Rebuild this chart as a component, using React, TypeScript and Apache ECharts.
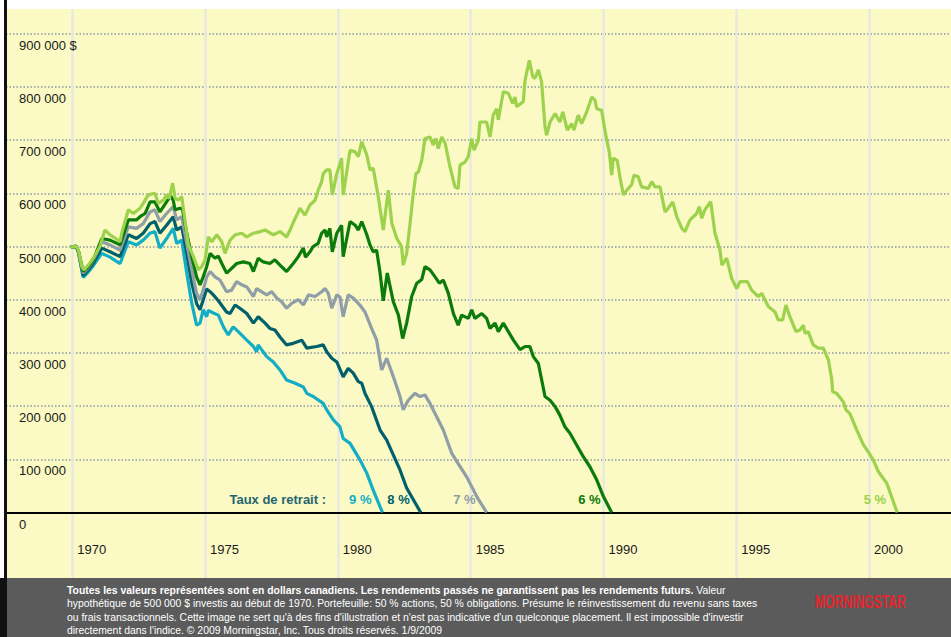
import React, { useEffect, useRef } from 'react';
import * as echarts from 'echarts';

// Values in thousands of dollars, [year, value]
const rate5: [number, number][] = [
  [1969.92, 500], [1970.05, 499], [1970.14, 501], [1970.23, 493], [1970.36, 462], [1970.44, 456], [1970.6, 465], [1970.79, 478],
  [1971.04, 500], [1971.17, 522], [1971.23, 531], [1971.42, 522], [1971.61, 516], [1971.8, 509], [1971.86, 525], [1972.11, 569],
  [1972.3, 562], [1972.55, 572], [1972.67, 581], [1972.86, 597], [1973.11, 600], [1973.24, 581], [1973.43, 587], [1973.55, 597],
  [1973.65, 590], [1973.78, 619], [1973.87, 591], [1973.99, 587], [1974.12, 594], [1974.24, 550], [1974.37, 503], [1974.56, 481],
  [1974.74, 456], [1974.87, 462], [1975.0, 475], [1975.12, 518], [1975.25, 509], [1975.44, 522], [1975.63, 509], [1975.75, 487],
  [1975.94, 512], [1976.13, 522], [1976.38, 525], [1976.57, 518], [1976.82, 525], [1977.07, 528], [1977.26, 531], [1977.57, 522],
  [1977.82, 528], [1978.07, 518], [1978.2, 531], [1978.32, 545], [1978.51, 565], [1978.57, 572], [1978.76, 559], [1978.95, 578],
  [1979.14, 587], [1979.26, 606], [1979.39, 622], [1979.45, 637], [1979.58, 644], [1979.7, 644], [1979.79, 597], [1979.96, 637],
  [1980.14, 666], [1980.2, 597], [1980.46, 681], [1980.65, 678], [1980.77, 669], [1980.9, 697], [1981.09, 672], [1981.21, 644],
  [1981.33, 647], [1981.52, 594], [1981.71, 531], [1981.9, 606], [1982.03, 544], [1982.22, 515], [1982.4, 500], [1982.46, 465],
  [1982.59, 487], [1982.72, 544], [1982.84, 600], [1982.94, 637], [1983.03, 640], [1983.16, 662], [1983.28, 703], [1983.47, 706],
  [1983.59, 691], [1983.7, 703], [1983.78, 684], [1983.91, 706], [1984.04, 694], [1984.22, 650], [1984.41, 612], [1984.53, 609],
  [1984.6, 653], [1984.79, 659], [1984.91, 669], [1985.04, 703], [1985.13, 681], [1985.29, 700], [1985.35, 734], [1985.6, 734],
  [1985.73, 706], [1985.85, 747], [1985.98, 759], [1986.04, 738], [1986.23, 791], [1986.42, 788], [1986.58, 769], [1986.67, 781],
  [1986.73, 763], [1986.98, 772], [1987.05, 813], [1987.21, 850], [1987.34, 819], [1987.42, 816], [1987.55, 832], [1987.67, 810],
  [1987.8, 725], [1987.86, 709], [1987.99, 734], [1988.18, 750], [1988.36, 734], [1988.47, 753], [1988.64, 719], [1988.8, 731],
  [1988.89, 719], [1989.05, 747], [1989.18, 731], [1989.37, 753], [1989.56, 781], [1989.68, 775], [1989.75, 759], [1989.93, 756],
  [1990.1, 706], [1990.22, 678], [1990.31, 634], [1990.37, 666], [1990.52, 662], [1990.62, 631], [1990.75, 597], [1990.88, 606],
  [1991.06, 616], [1991.15, 634], [1991.31, 631], [1991.44, 612], [1991.69, 609], [1991.82, 622], [1991.94, 612], [1992.13, 612],
  [1992.32, 565], [1992.44, 572], [1992.61, 584], [1992.76, 556], [1992.95, 534], [1993.07, 528], [1993.26, 550], [1993.51, 562],
  [1993.61, 575], [1993.7, 553], [1993.82, 569], [1994.04, 584], [1994.2, 525], [1994.39, 493], [1994.46, 465], [1994.64, 478],
  [1994.83, 440], [1995.02, 421], [1995.14, 434], [1995.42, 434], [1995.58, 418], [1995.83, 406], [1995.96, 412], [1996.21, 387],
  [1996.46, 377], [1996.58, 362], [1996.75, 362], [1996.87, 390], [1997.02, 368], [1997.25, 340], [1997.4, 343], [1997.53, 352],
  [1997.59, 337], [1997.71, 340], [1997.9, 315], [1998.09, 309], [1998.28, 309], [1998.47, 287], [1998.6, 249], [1998.63, 227],
  [1998.78, 224], [1999.03, 208], [1999.13, 193], [1999.28, 186], [1999.54, 155], [1999.79, 127], [1999.97, 114], [2000.16, 99],
  [2000.35, 77], [2000.67, 55], [2001.06, 0],
];

const rate6: [number, number][] = [
  [1969.92, 500], [1970.05, 499], [1970.14, 501], [1970.23, 492], [1970.41, 453], [1970.6, 462], [1970.79, 475], [1971.11, 515],
  [1971.42, 512], [1971.8, 503], [1972.11, 550], [1972.42, 550], [1972.55, 556], [1972.74, 562], [1972.93, 584], [1973.11, 584],
  [1973.3, 565], [1973.55, 584], [1973.7, 595], [1973.8, 587], [1973.87, 569], [1974.06, 572], [1974.15, 570], [1974.31, 525],
  [1974.5, 481], [1974.68, 443], [1974.81, 428], [1974.93, 443], [1975.06, 462], [1975.19, 487], [1975.37, 478], [1975.5, 482],
  [1975.63, 468], [1975.81, 450], [1975.94, 456], [1976.19, 468], [1976.44, 471], [1976.69, 468], [1976.82, 453], [1977.0, 478],
  [1977.19, 471], [1977.44, 468], [1977.63, 475], [1977.82, 465], [1978.07, 453], [1978.32, 468], [1978.51, 481], [1978.7, 497],
  [1978.78, 480], [1978.95, 490], [1979.07, 500], [1979.26, 506], [1979.39, 525], [1979.52, 531], [1979.58, 518], [1979.7, 534],
  [1979.79, 490], [1979.96, 525], [1980.14, 540], [1980.2, 481], [1980.46, 547], [1980.65, 540], [1980.77, 531], [1980.9, 547],
  [1981.09, 522], [1981.21, 503], [1981.33, 490], [1981.46, 493], [1981.59, 450], [1981.71, 398], [1981.86, 450], [1982.09, 396],
  [1982.28, 371], [1982.44, 327], [1982.59, 356], [1982.78, 406], [1982.97, 431], [1983.16, 438], [1983.28, 462], [1983.47, 456],
  [1983.66, 443], [1983.82, 431], [1983.97, 437], [1984.16, 412], [1984.35, 374], [1984.53, 352], [1984.66, 371], [1984.91, 365],
  [1985.04, 381], [1985.16, 365], [1985.42, 374], [1985.6, 365], [1985.73, 346], [1985.92, 356], [1986.04, 340], [1986.23, 356],
  [1986.42, 340], [1986.61, 324], [1986.86, 306], [1987.05, 312], [1987.23, 312], [1987.36, 293], [1987.55, 280], [1987.8, 218],
  [1987.99, 211], [1988.18, 199], [1988.36, 183], [1988.55, 161], [1988.74, 149], [1988.99, 127], [1989.24, 105], [1989.49, 86],
  [1989.75, 61], [1990.0, 30], [1990.31, 0],
];

const rate7: [number, number][] = [
  [1969.92, 500], [1970.05, 499], [1970.14, 501], [1970.23, 491], [1970.41, 450], [1970.6, 460], [1970.79, 474], [1971.11, 509],
  [1971.42, 503], [1971.8, 493], [1972.11, 537], [1972.42, 534], [1972.67, 543], [1972.93, 565], [1973.11, 569], [1973.3, 547],
  [1973.55, 562], [1973.8, 575], [1973.93, 550], [1974.12, 556], [1974.31, 506], [1974.5, 456], [1974.68, 412], [1974.81, 400],
  [1974.93, 418], [1975.06, 443], [1975.19, 453], [1975.37, 443], [1975.56, 437], [1975.81, 415], [1976.0, 418], [1976.19, 434],
  [1976.38, 428], [1976.57, 424], [1976.82, 406], [1976.94, 421], [1977.32, 409], [1977.51, 415], [1977.7, 403], [1977.88, 396],
  [1978.07, 384], [1978.26, 393], [1978.51, 400], [1978.7, 390], [1978.89, 409], [1979.14, 406], [1979.39, 415], [1979.52, 421],
  [1979.64, 412], [1979.77, 384], [1979.96, 409], [1980.08, 405], [1980.2, 368], [1980.39, 409], [1980.58, 403], [1980.83, 390],
  [1981.02, 377], [1981.27, 346], [1981.46, 324], [1981.65, 268], [1981.84, 290], [1982.09, 255], [1982.34, 218], [1982.46, 193],
  [1982.65, 211], [1982.9, 224], [1983.09, 218], [1983.28, 221], [1983.47, 205], [1983.72, 180], [1983.97, 155], [1984.29, 111],
  [1984.53, 92], [1984.85, 67], [1985.23, 30], [1985.6, 0],
];

const rate8: [number, number][] = [
  [1969.92, 500], [1970.05, 499], [1970.14, 501], [1970.23, 490], [1970.41, 445], [1970.6, 456], [1970.79, 468], [1971.11, 497],
  [1971.42, 490], [1971.8, 481], [1972.11, 522], [1972.42, 515], [1972.67, 525], [1972.93, 543], [1973.11, 547], [1973.3, 525],
  [1973.55, 540], [1973.8, 556], [1973.93, 531], [1974.12, 537], [1974.31, 487], [1974.5, 431], [1974.68, 393], [1974.81, 381],
  [1974.93, 400], [1975.06, 420], [1975.19, 415], [1975.31, 409], [1975.5, 398], [1975.81, 377], [1975.94, 374], [1976.13, 390],
  [1976.31, 384], [1976.57, 374], [1976.82, 356], [1977.0, 368], [1977.26, 356], [1977.44, 346], [1977.63, 343], [1977.82, 330],
  [1978.07, 315], [1978.32, 318], [1978.64, 324], [1978.83, 309], [1979.2, 312], [1979.45, 315], [1979.58, 302], [1979.77, 290],
  [1979.96, 283], [1980.2, 255], [1980.39, 271], [1980.58, 262], [1980.77, 246], [1980.9, 243], [1981.02, 224], [1981.27, 199],
  [1981.59, 155], [1981.84, 136], [1982.09, 108], [1982.34, 80], [1982.59, 46], [1983.12, 0],
];

const rate9: [number, number][] = [
  [1969.92, 500], [1970.05, 499], [1970.14, 501], [1970.23, 489], [1970.41, 442], [1970.6, 452], [1970.79, 464], [1971.11, 487],
  [1971.42, 480], [1971.8, 468], [1972.11, 509], [1972.42, 503], [1972.67, 512], [1972.93, 525], [1973.11, 528], [1973.3, 497],
  [1973.55, 515], [1973.8, 534], [1973.93, 506], [1974.12, 512], [1974.31, 450], [1974.5, 393], [1974.68, 352], [1974.81, 356],
  [1974.93, 381], [1975.06, 368], [1975.12, 380], [1975.31, 375], [1975.5, 371], [1975.69, 349], [1975.87, 334], [1976.06, 349],
  [1976.25, 340], [1976.57, 324], [1976.82, 312], [1976.94, 302], [1977.0, 315], [1977.32, 293], [1977.57, 283], [1977.82, 268],
  [1978.07, 249], [1978.39, 243], [1978.7, 236], [1978.83, 224], [1979.07, 218], [1979.45, 205], [1979.58, 193], [1979.83, 174],
  [1980.08, 161], [1980.2, 139], [1980.46, 130], [1980.83, 99], [1981.09, 74], [1981.33, 42], [1981.68, 0],
];

const rateLabels = ['5 %', '6 %', '7 %', '8 %', '9 %'];
const rateColors = ['#9dd24d', '#0b7b0b', '#8f9ea7', '#00606b', '#13aec5'];
const yearTicks = [1970, 1975, 1980, 1985, 1990, 1995, 2000];
const valueTickLabels = ['0', '100 000', '200 000', '300 000', '400 000', '500 000', '600 000', '700 000', '800 000', '900 000 $'];
const legendTitle = 'Taux de retrait :';
const footerBold = 'Toutes les valeurs représentées sont en dollars canadiens. Les rendements passés ne garantissent pas les rendements futurs.';
const footerLines = [
  ' Valeur',
  'hypothétique de 500 000 $ investis au début de 1970. Portefeuille: 50 % actions, 50 % obligations. Présume le réinvestissement du revenu sans taxes',
  "ou frais transactionnels. Cette image ne sert qu'à des fins d'illustration et n'est pas indicative d'un quelconque placement. Il est impossible d'investir",
  "directement dans l'indice. © 2009 Morningstar, Inc. Tous droits réservés. 1/9/2009",
];

export default function App() {
  const ref = useRef<HTMLDivElement>(null);
  useEffect(() => {
    if (!ref.current) return;
    const chart = echarts.init(ref.current, null, { renderer: 'svg' });
    const font = '"Liberation Sans", Arial, Helvetica, sans-serif';
    const seriesData = [rate5, rate6, rate7, rate8, rate9];
    const fs = 10.4;
    const lh = 13.3;
    const footerText =
      '{b|' + footerBold + '}{r|' + footerLines[0] + '}\n' +
      footerLines.slice(1).map((l) => '{r|' + l + '}').join('\n');

    chart.setOption({
      animation: false,
      backgroundColor: '#ffffff',
      textStyle: { fontFamily: font },
      grid: [
        { left: -60.5, right: -50.8, top: 33.7, bottom: 124.5, outerBoundsMode: 'none', containLabel: false },
        {
          left: -60.5, right: -50.8, top: 9, bottom: 59, outerBoundsMode: 'none', containLabel: false,
          show: true, backgroundColor: '#fbf9c4', borderWidth: 0, z: -5,
        },
      ],
      xAxis: [
        {
          gridIndex: 0, type: 'value', min: 1965, max: 2005, interval: 5,
          axisLine: { show: true, onZero: false, lineStyle: { color: '#000000', width: 2 } },
          axisTick: { show: false },
          splitLine: { show: false },
          axisLabel: {
            margin: 30, align: 'left', padding: [0, 0, 0, 5], fontSize: 13, color: '#1a1a1a', fontFamily: font,
            formatter: (v: number) => (yearTicks.includes(v) ? String(v) : ''),
          },
        },
        {
          gridIndex: 1, type: 'value', min: 1965, max: 2005, interval: 5,
          axisLine: { show: false }, axisTick: { show: false }, axisLabel: { show: false },
          splitLine: { show: true, lineStyle: { color: '#e8e8e2', width: 2.5 } },
        },
      ],
      yAxis: [
        {
          gridIndex: 0, type: 'value', min: 0, max: 900, interval: 100,
          axisLine: { show: false }, axisTick: { show: false },
          axisLabel: {
            inside: true, margin: 79.5, verticalAlign: 'top', padding: [5, 0, 0, 0], lineHeight: 13,
            fontSize: 13, color: '#1a1a1a', fontFamily: font,
            formatter: (v: number) => valueTickLabels[Math.round(v / 100)] ?? '',
          },
          splitLine: { show: true, lineStyle: { color: '#8d99a6', type: [1.5, 2], width: 1.5 } },
        },
        { gridIndex: 1, type: 'value', min: 0, max: 1, show: false },
      ],
      series: seriesData.map((d, i) => ({
        type: 'line',
        xAxisIndex: 0,
        yAxisIndex: 0,
        data: d,
        showSymbol: false,
        symbol: 'none',
        lineStyle: { color: rateColors[i], width: 3.2 },
        itemStyle: { color: rateColors[i] },
        z: 10 - i,
        markPoint: {
          symbol: 'circle',
          symbolSize: 0,
          silent: true,
          itemStyle: { color: 'rgba(0,0,0,0)' },
          label: {
            show: true, position: 'left', distance: 11, offset: [0, -13],
            formatter: rateLabels[i], color: rateColors[i], fontWeight: 'bold', fontSize: 13, fontFamily: font,
          },
          data: [{ coord: d[d.length - 1] }],
        },
      })),
      graphic: [
        { type: 'rect', z: 100, shape: { x: 0, y: 0, width: 4, height: 578 }, style: { fill: '#ffffff' } },
        { type: 'rect', z: 100, shape: { x: 7, y: 578, width: 944, height: 59 }, style: { fill: '#5b5b5b' } },
        { type: 'rect', z: 100, shape: { x: 0, y: 578, width: 7, height: 59 }, style: { fill: '#111111' } },
        { type: 'rect', z: 101, shape: { x: 4, y: 0, width: 3, height: 637 }, style: { fill: '#111111' } },
        {
          type: 'text', z: 100, x: 326, y: 499.5,
          style: { text: legendTitle, fill: '#1f6670', font: 'bold 13px ' + font, textAlign: 'right', textVerticalAlign: 'middle' },
        },
        {
          type: 'text', z: 102, x: 67, y: 584,
          style: {
            text: footerText,
            fill: '#ffffff',
            textVerticalAlign: 'top',
            rich: {
              b: { fill: '#ffffff', fontWeight: 'bold', fontSize: fs, fontFamily: font, lineHeight: lh },
              r: { fill: '#ffffff', fontWeight: 'normal', fontSize: fs, fontFamily: font, lineHeight: lh },
            },
          },
        },
        {
          type: 'text', z: 102, x: 815, y: 601.5, scaleX: 0.64,
          style: { text: 'MORNINGSTAR', fill: '#e3262d', font: '900 19px ' + font, textVerticalAlign: 'middle' },
        },
      ],
    });
    return () => chart.dispose();
  }, []);
  return <div ref={ref} style={{ position: 'absolute', left: 0, top: 0, width: 951, height: 637 }} />;
}
